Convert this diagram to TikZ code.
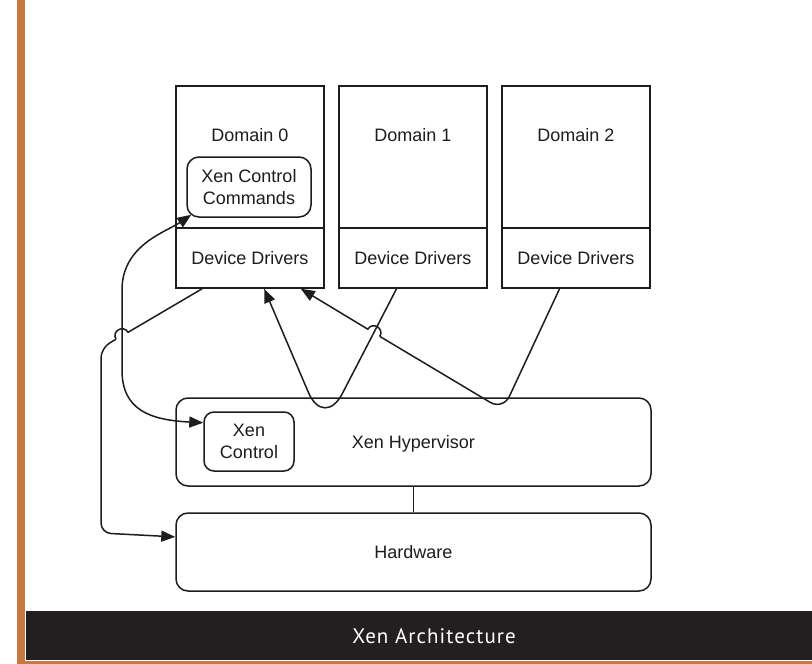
\documentclass[tikz,border=0pt]{standalone}
\usepackage{fontspec}
\setmainfont{Liberation Sans}
\newfontfamily\titlefont[LetterSpace=5]{PT Sans}
\usetikzlibrary{arrows.meta,calc}
\definecolor{bandcol}{RGB}{35,31,32}
\definecolor{orangecol}{RGB}{200,121,66}
\definecolor{inkcol}{RGB}{30,28,28}
\begin{document}
\begin{tikzpicture}[x=1pt,y=-1pt,
  box/.style={draw=inkcol, text=inkcol, line width=1.5pt, rectangle, inner sep=0pt, font=\fontsize{18}{21.5}\selectfont},
  rbox/.style={box, rounded corners=12pt},
  sl/.style={text height=12.9pt, text depth=0pt},
  lab/.style={text=inkcol, font=\fontsize{18}{21.5}\selectfont, inner sep=0pt, sl},
  conn/.style={draw=inkcol, line width=1.5pt, line join=round},
  arr/.style={conn, -{Triangle[length=14pt,width=11pt]}},
  dbl/.style={conn, {Triangle[length=14pt,width=11pt]}-{Triangle[length=14pt,width=11pt]}},
]
\useasboundingbox (0,0) rectangle (812,664);
\fill[white] (0,0) rectangle (812,664);
\fill[orangecol] (17,0) rectangle (25,664);
\fill[orangecol] (17,661) rectangle (812,664);
\fill[bandcol] (26,611) rectangle (812,660);
\node[text=white, inner sep=0pt, font=\titlefont\fontsize{21}{25}\selectfont] (title) at (434,636) {Xen Architecture};

% domains
\node[box, minimum width=148pt, minimum height=142pt] (dom0) at (250,157) {};
\node[box, sl, minimum width=148pt, minimum height=60pt] (dd0) at (250,258) {Device Drivers};
\node[box, minimum width=148pt, minimum height=142pt] (dom1) at (413,157) {};
\node[box, sl, minimum width=148pt, minimum height=60pt] (dd1) at (413,258) {Device Drivers};
\node[box, minimum width=148pt, minimum height=142pt] (dom2) at (576,157) {};
\node[box, sl, minimum width=148pt, minimum height=60pt] (dd2) at (576,258) {Device Drivers};
\node[lab] (d0lab) at (250,135) {Domain 0};
\node[lab] (d1lab) at (413,135) {Domain 1};
\node[lab] (d2lab) at (576,135) {Domain 2};
\node[rbox, align=center, minimum width=124pt, minimum height=60pt] (xcc) at (249,187) {Xen Control\\Commands};

% hypervisor and hardware
\node[rbox, sl, minimum width=475pt, minimum height=88pt] (hyp) at (413.5,442) {Xen Hypervisor};
\node[box, rounded corners=10pt, align=center, minimum width=90pt, minimum height=59pt] (xc) at (249,441.5) {Xen\\Control};
\node[rbox, sl, minimum width=475pt, minimum height=78pt] (hw) at (413.5,552) {Hardware};
\draw[conn] (hyp.south) -- (hw.north);

% connector end points
\coordinate (xccA) at ([xshift=5pt,yshift=3pt]xcc.south west);
\coordinate (xcA) at ($(xc.north west)!0.19!(xc.south west)$);
\coordinate (d0a) at ($(dd0.south west)!0.18!(dd0.south east)$);
\coordinate (d0b) at ($(dd0.south west)!0.595!(dd0.south east)$);
\coordinate (d0c) at ($(dd0.south west)!0.84!(dd0.south east)$);
\coordinate (d1a) at ($(dd1.south west)!0.39!(dd1.south east)$);
\coordinate (d2a) at ($(dd2.south west)!0.39!(dd2.south east)$);
\coordinate (hwA) at ($(hw.north west)!0.31!(hw.south west)$);
% waypoints
\coordinate (la1) at (122,290);
\coordinate (la2) at (122,370);
\coordinate (hb1) at (128.05,332.3);
\coordinate (hb2) at (115.95,339.3);
\coordinate (bc1) at (101,348);
\coordinate (bc2) at (101,533);
\coordinate (v1) at (324,429);
\coordinate (v2) at (503,410);
\coordinate (hd1) at (379.8,336.4);
\coordinate (hd2) at (367.8,329.2);

% Xen Control Commands <-> Xen Control
\draw[dbl] (xccA) .. controls (166,232) and (122,245) .. (la1) -- (la2) .. controls (122,410) and (150,420) .. (xcA);

% Domain 0 drivers -> Hardware (with hop)
\draw[conn] (d0a) -- (hb1) .. controls (123.4,324.2) and (111.3,331.2) .. (hb2);
\draw[arr, rounded corners=10pt] (hb2) -- (bc1) -- (bc2) -- (hwA);

% Domain 1 -> Domain 0
\draw[arr, rounded corners=40pt] (d1a) -- (v1) -- (d0b);

% Domain 2 -> Domain 0 (with hop)
\draw[conn, rounded corners=15pt] (d2a) -- (v2) -- (hd1);
\draw[arr] (hd1) .. controls (384.6,328.4) and (372.6,321.2) .. (hd2) -- (d0c);
\end{tikzpicture}
\end{document}
